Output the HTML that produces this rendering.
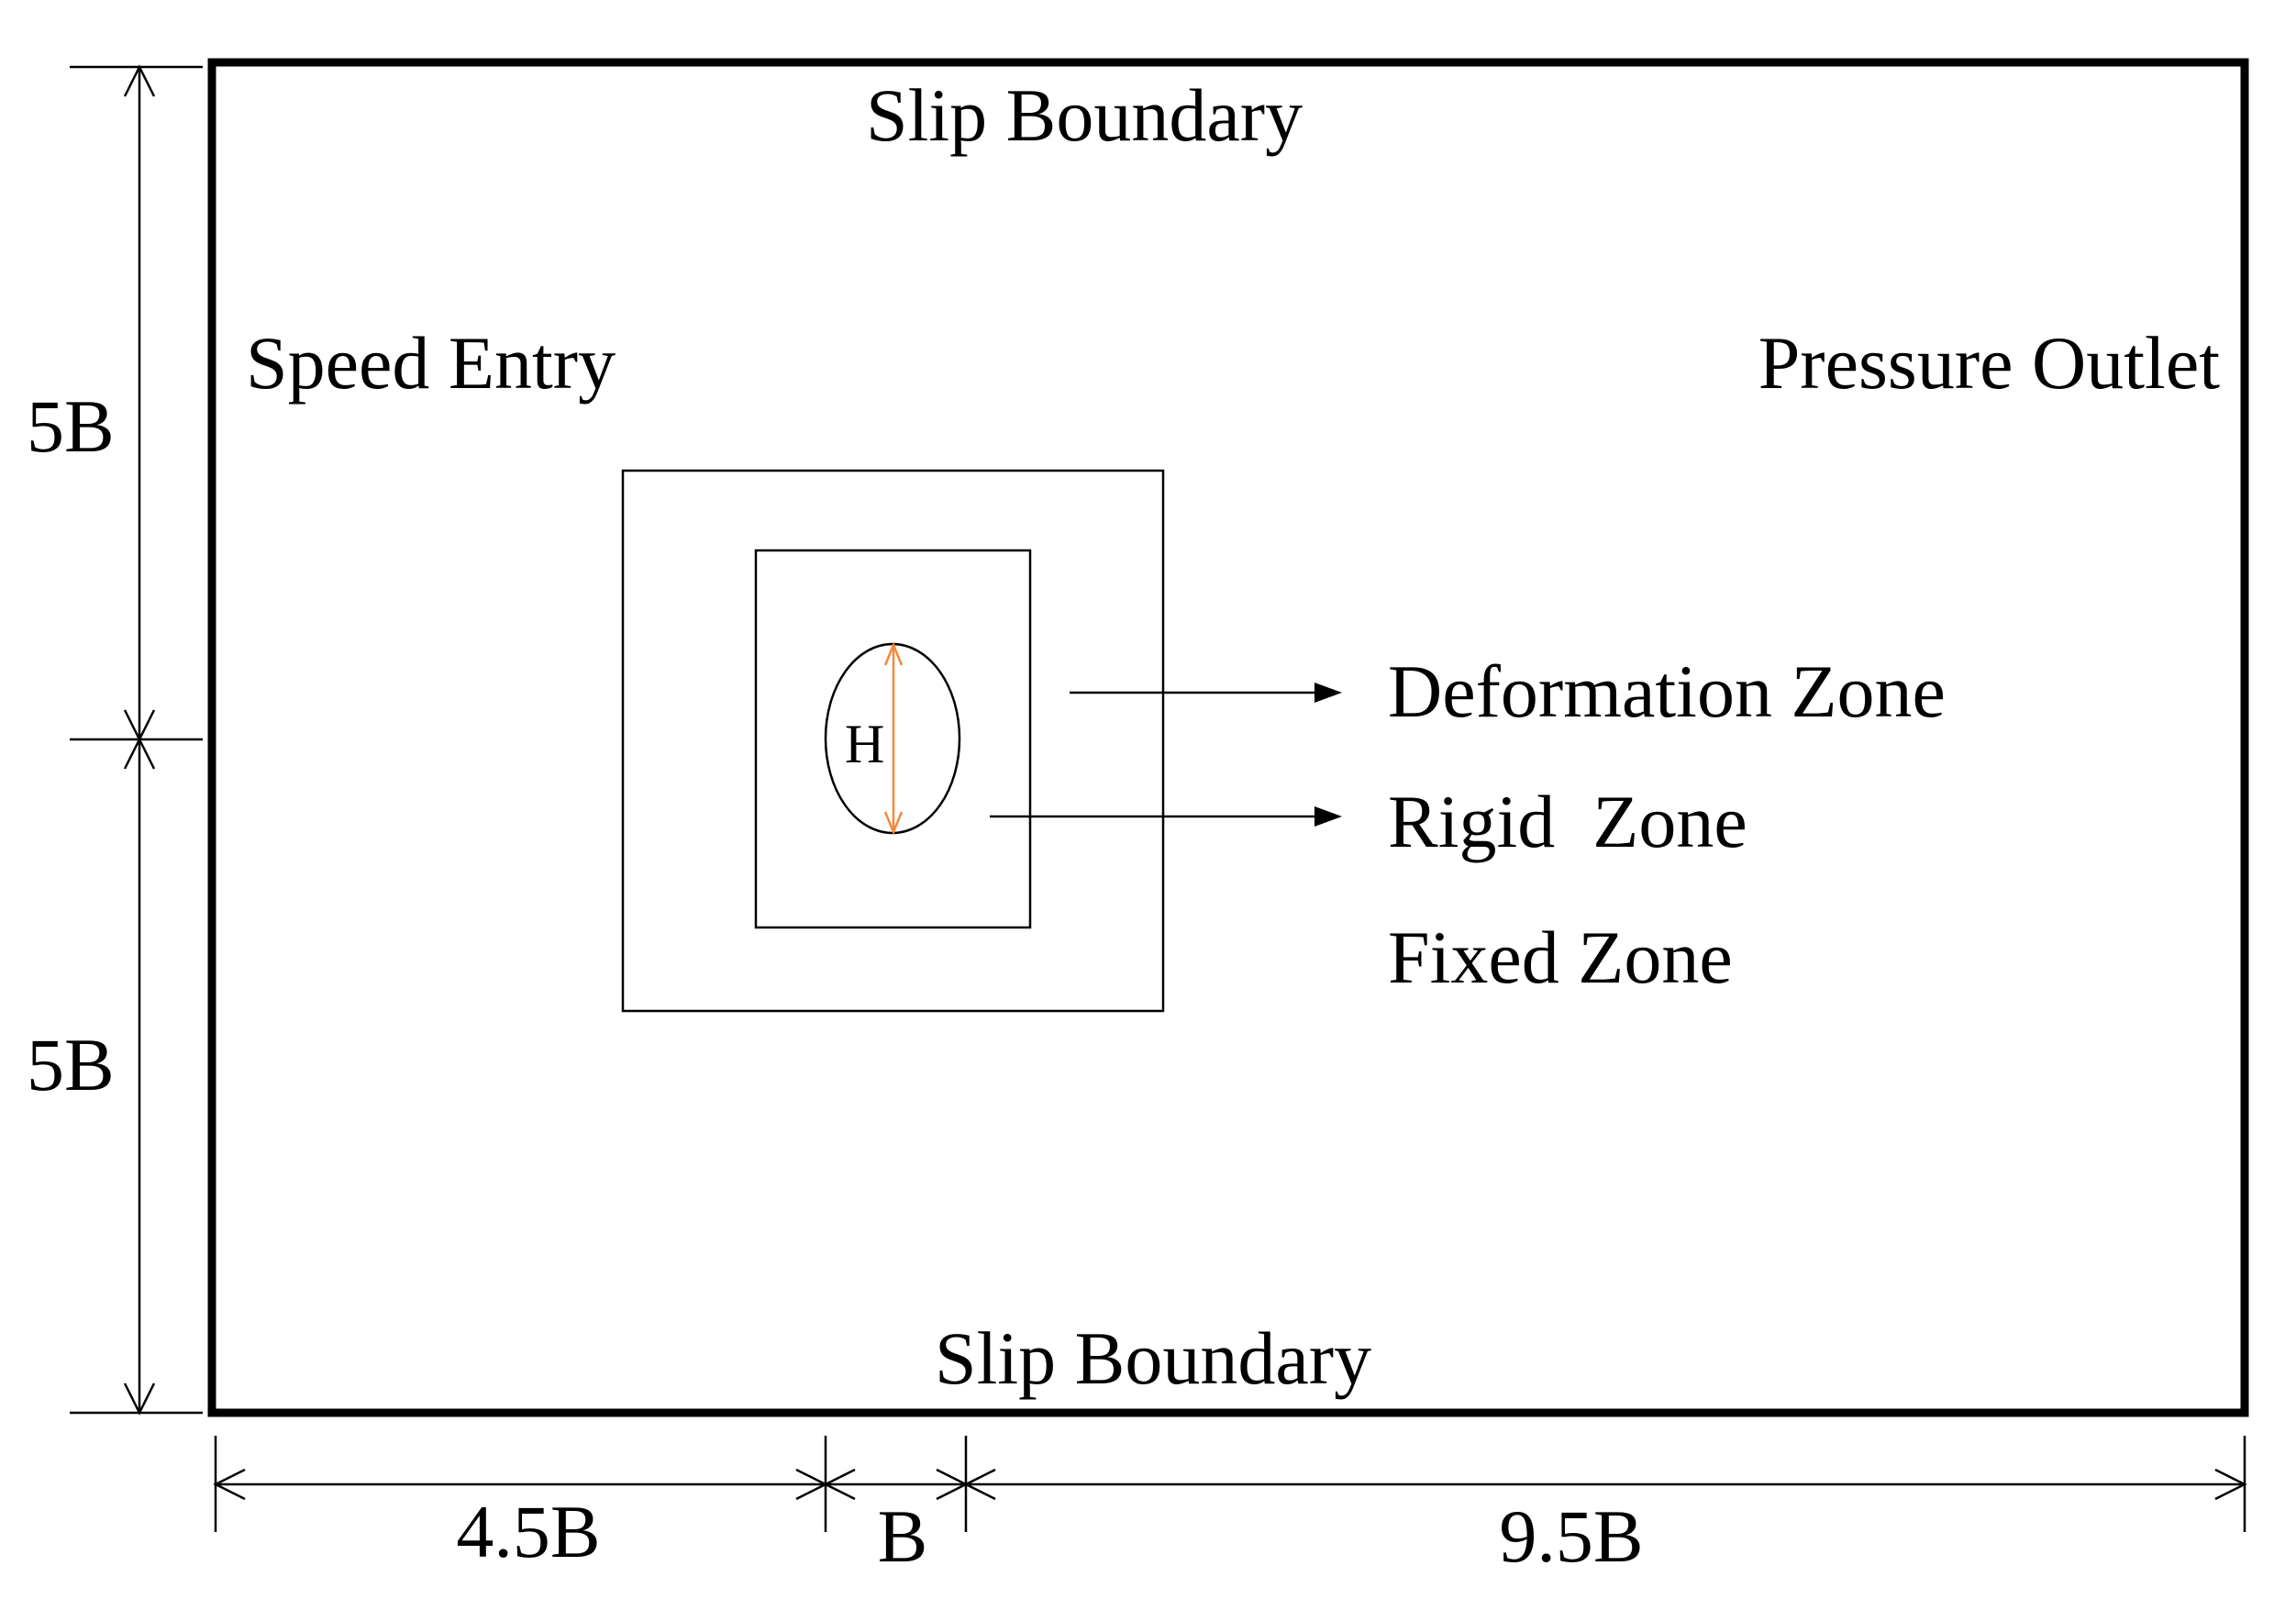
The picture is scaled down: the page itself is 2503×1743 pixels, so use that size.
<!DOCTYPE html>
<html><head><meta charset="utf-8"><style>html,body{margin:0;padding:0;background:#fff}</style></head>
<body>
<svg width="2503" height="1738" viewBox="0 0 2503 1738" xmlns="http://www.w3.org/2000/svg" font-family="Liberation Serif, serif" fill="#000">
<rect x="231" y="68" width="2216" height="1472" fill="none" stroke="#000" stroke-width="9"/>
<g stroke="#000" stroke-width="2.5" fill="none">
<line x1="152" y1="73" x2="152" y2="1540"/>
<line x1="76" y1="73" x2="221" y2="73"/>
<line x1="76" y1="806" x2="221" y2="806"/>
<line x1="76" y1="1540" x2="221" y2="1540"/>
<polyline points="136,105 152,73 168,105"/>
<polyline points="136,774 152,806 168,774"/>
<polyline points="136,838 152,806 168,838"/>
<polyline points="136,1508 152,1540 168,1508"/>
<line x1="235" y1="1618" x2="2447" y2="1618"/>
<line x1="235" y1="1565" x2="235" y2="1670"/>
<line x1="900" y1="1565" x2="900" y2="1670"/>
<line x1="1053" y1="1565" x2="1053" y2="1670"/>
<line x1="2447" y1="1565" x2="2447" y2="1670"/>
<polyline points="267,1602 235,1618 267,1634"/>
<polyline points="868,1602 900,1618 868,1634"/>
<polyline points="932,1602 900,1618 932,1634"/>
<polyline points="1021,1602 1053,1618 1021,1634"/>
<polyline points="1085,1602 1053,1618 1085,1634"/>
<polyline points="2415,1602 2447,1618 2415,1634"/>
<rect x="679" y="513" width="589" height="589"/>
<rect x="824" y="600" width="299" height="411"/>
<ellipse cx="973" cy="805" rx="73" ry="103"/>
<line x1="1166" y1="755" x2="1440" y2="755"/>
<line x1="1079" y1="890" x2="1440" y2="890"/>
</g>
<polygon points="1463,755 1433,744 1433,766"/>
<polygon points="1463,890 1433,879 1433,901"/>
<g stroke="#f5883a" stroke-width="2.5" fill="none">
<line x1="974" y1="703" x2="974" y2="907"/>
<polyline points="965,725 974,703 983,725"/>
<polyline points="965,885 974,907 983,885"/>
</g>
<g font-size="82">
<text x="944" y="153">Slip Boundary</text>
<text x="1019" y="1508">Slip Boundary</text>
<text x="268" y="423">Speed Entry</text>
<text x="2420" y="423" text-anchor="end">Pressure Outlet</text>
<text x="1513" y="781">Deformation Zone</text>
<text x="1513" y="923">Rigid&#160; Zone</text>
<text x="1513" y="1071">Fixed Zone</text>
<text x="29" y="492">5B</text>
<text x="29" y="1188">5B</text>
<text x="576" y="1697" text-anchor="middle">4.5B</text>
<text x="984" y="1702" text-anchor="middle">B</text>
<text x="1713" y="1702" text-anchor="middle">9.5B</text>
</g>
<text x="921" y="831" font-size="60">H</text>
</svg>
</body></html>
